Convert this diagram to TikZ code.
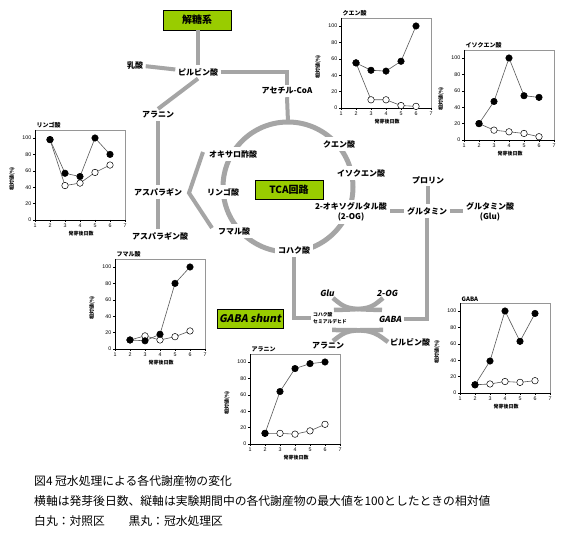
\documentclass[tikz,border=0pt]{standalone}
\usepackage{fontspec}
\setmainfont{Noto Sans CJK JP}
\newfontfamily\jpit{Noto Sans CJK JP}[FakeSlant=0.2]
\newfontfamily\arialf{Liberation Sans}
\definecolor{lgray}{RGB}{165,165,165}
\definecolor{lgreen}{RGB}{153,204,0}
\definecolor{fgray}{RGB}{150,150,150}
\tikzset{
  pathline/.style={draw=lgray, line width=4},
  cycline/.style={draw=lgray, line width=5},
  arcline/.style={draw=lgray, line width=4.5},
  lab/.style={font=\fontsize{8}{9.5}\selectfont\bfseries, inner sep=2.5},
  cyc/.style={lab, fill=white, inner sep=3},
  itlab/.style={font=\jpit\fontsize{8.3}{9}\selectfont\bfseries, inner sep=2},
  smalllab/.style={font=\fontsize{4.8}{7.5}\selectfont\bfseries, inner sep=2, align=left},
  greenbox/.style={draw=black, line width=0.8, fill=lgreen, inner sep=1},
  ticklab/.style={font=\arialf\fontsize{5.3}{6}\selectfont, inner sep=0.5},
  axislab/.style={font=\fontsize{5}{6}\selectfont\bfseries, inner sep=0.5},
  charttitle/.style={font=\fontsize{6}{7}\selectfont\bfseries, inner sep=0.5},
  dataline/.style={draw=black!65, line width=0.6},
  wmark/.style={circle, draw=black, fill=white, line width=0.5, inner sep=0, minimum size=6.5},
  bmark/.style={circle, draw=black, fill=black, line width=0.5, inner sep=0, minimum size=6.5},
  captext/.style={font=\fontsize{11.8}{13}\selectfont, inner sep=0, anchor=west},
}
% #1 prefix, #2 left (day 1), #3 bottom (value 0), #4 title, #5 black, #6 white
\newcommand{\mychart}[6]{%
  \begin{scope}[shift={(#2,#3)}]
    \draw[fgray, line width=0.5] (0,0) rectangle (90,-90);
    \draw[black, line width=0.5] (0,-90) -- (0,0) -- (90,0);
    \foreach \v in {0,20,...,100} {
      \draw[black, line width=0.4] (0,{-0.82*\v}) -- (-2,{-0.82*\v});
      \node[ticklab, anchor=east] (#1y\v) at (-3,{-0.82*\v}) {\v};
    }
    \foreach \d in {1,...,7} {
      \draw[black, line width=0.4] ({(\d-1)*15},0) -- ({(\d-1)*15},2);
      \node[ticklab, anchor=north] (#1x\d) at ({(\d-1)*15},3) {\d};
    }
    \node[charttitle, anchor=south west] (#1t) at (1,-91) {#4};
    \node[axislab, rotate=90] (#1ya) at (-23,-41) {相対値(\%)};
    \node[axislab] (#1xa) at (46,14) {発芽後日数};
    \foreach \v [count=\i from 2] in {#5} {\coordinate (b\i) at ({(\i-1)*15},{-0.82*\v});}
    \foreach \v [count=\i from 2] in {#6} {\coordinate (w\i) at ({(\i-1)*15},{-0.82*\v});}
    \draw[dataline] (w2) -- (w3) -- (w4) -- (w5) -- (w6);
    \draw[dataline] (b2) -- (b3) -- (b4) -- (b5) -- (b6);
    \foreach \i in {2,...,6} {\node[wmark] (#1w\i) at (w\i) {};}
    \foreach \i in {2,...,6} {\node[bmark] (#1b\i) at (b\i) {};}
  \end{scope}
}
\begin{document}
\begin{tikzpicture}[x=1pt, y=-1pt]
\useasboundingbox (0,0) rectangle (570,534);
\fill[white] (0,0) rectangle (570,534);

% ---------- glycolysis ----------
\node[greenbox, minimum width=68, minimum height=20, font=\fontsize{10}{11}\selectfont\bfseries] (glyco) at (197,20) {解糖系};
\node[lab] (pyr) at (198,72) {ピルビン酸};
\node[lab] (lac) at (135,65) {乳酸};
\node[lab] (acoa) at (287,91) {アセチル-CoA};
\node[lab] (ala1) at (158,115) {アラニン};
\node[lab] (asn) at (158,192) {アスパラギン};
\node[lab] (asp) at (160,236) {アスパラギン酸};

\draw[pathline] (glyco.south -| pyr.north) -- (pyr.north);
\draw[pathline] (lac) -- (pyr);
\draw[pathline] (pyr.east) -| (acoa.north);
\draw[pathline] (pyr.south) -- (ala1.north);
\draw[pathline] (ala1.south) -- (asn.north);
\draw[pathline] (asn.south) -- (asn.south |- asp.north);

% ---------- TCA cycle ----------
\coordinate (ctop) at (288,122);
\coordinate (chev) at (189,193);
\coordinate (chevA) at (203,152);
\coordinate (chevB) at (212,228);
\draw[cycline] (288,187) circle[radius=65pt];
\draw[pathline] (acoa.south) -- (ctop);
\draw[pathline] (chevA) -- (chev) -- (chevB);

\node[cyc] (cit) at (339,144) {クエン酸};
\node[cyc] (icit) at (361,173) {イソクエン酸};
\node[cyc, align=center] (og) at (351,212) {2-オキソグルタル酸\\(2-OG)};
\node[cyc] (succ) at (294,250) {コハク酸};
\node[cyc] (fum) at (234,231) {フマル酸};
\node[cyc] (mal) at (223,192) {リンゴ酸};
\node[cyc] (oaa) at (233,154) {オキサロ酢酸};
\node[greenbox, minimum width=68, minimum height=19, font=\fontsize{10}{11}\selectfont\bfseries] (tca) at (289,189.5) {TCA回路};

% ---------- glutamine branch ----------
\node[lab] (pro) at (428,180) {プロリン};
\node[lab] (gln) at (427,211) {グルタミン};
\node[lab, align=center] (glu2) at (490,212) {グルタミン酸\\(Glu)};
\draw[pathline] (og.east |- gln.west) -- (gln.west);
\draw[pathline] (pro.south) -- (pro.south |- gln.north);
\draw[pathline] (gln.east) -- (gln.east -| glu2.west);

% ---------- GABA shunt ----------
\node[greenbox, minimum width=66, minimum height=19, font=\jpit\fontsize{10.5}{11}\selectfont\bfseries] (shunt) at (250,318.5) {GABA shunt};
\node[itlab] (glu) at (327,293) {Glu};
\node[itlab] (og2) at (387,293) {2-OG};
\node[itlab] (gaba) at (390,319) {GABA};
\node[smalllab, anchor=west] (ssa) at (311,318) {コハク酸\\セミアルデヒド};
\node[lab] (ala2) at (328,346) {アラニン};
\node[lab] (pyr2) at (410,342) {ピルビン酸};

\draw[pathline] (gln.south) |- (gaba.east);
\draw[pathline] (succ.south) |- (ssa.west);

\coordinate (ua1) at (333,298);
\coordinate (ub1) at (382,310);
\coordinate (ua2) at (383,298);
\coordinate (ub2) at (334,310);
\draw[arcline] (ua1) .. controls (346,309) .. (ub1);
\draw[arcline] (ua2) .. controls (370,309) .. (ub2);
\coordinate (la1) at (333,341);
\coordinate (lb1) at (383,330);
\coordinate (la2) at (332,330);
\coordinate (lb2) at (388,342);
\draw[arcline] (la1) .. controls (347,330) .. (lb1);
\draw[arcline] (la2) .. controls (372,330) .. (lb2);

% ---------- charts ----------
\mychart{ca}{341}{108}{クエン酸}{55,46,45,57,100}{55,10,10,3,2}
\mychart{cb}{464}{140}{イソクエン酸}{20,47,100,54,52}{20,12,10,8,4}
\mychart{cc}{35}{220}{リンゴ酸}{98,57,53,100,80}{98,42,45,58,67}
\mychart{cd}{115}{349}{フマル酸}{11,10,18,80,100}{11,16,11,15,22}
\mychart{ce}{460}{393}{GABA}{10,39,100,63,97}{10,11,14,13,15}
\mychart{cf}{250}{444}{アラニン}{13,64,92,98,100}{13,13,12,16,24}

% ---------- caption ----------
\node[captext] (cap1) at (34,481) {図4 冠水処理による各代謝産物の変化};
\node[captext] (cap2) at (34,501) {横軸は発芽後日数、縦軸は実験期間中の各代謝産物の最大値を100としたときの相対値};
\node[captext] (cap3) at (34,521) {白丸：対照区　　黒丸：冠水処理区};
\end{tikzpicture}
\end{document}
